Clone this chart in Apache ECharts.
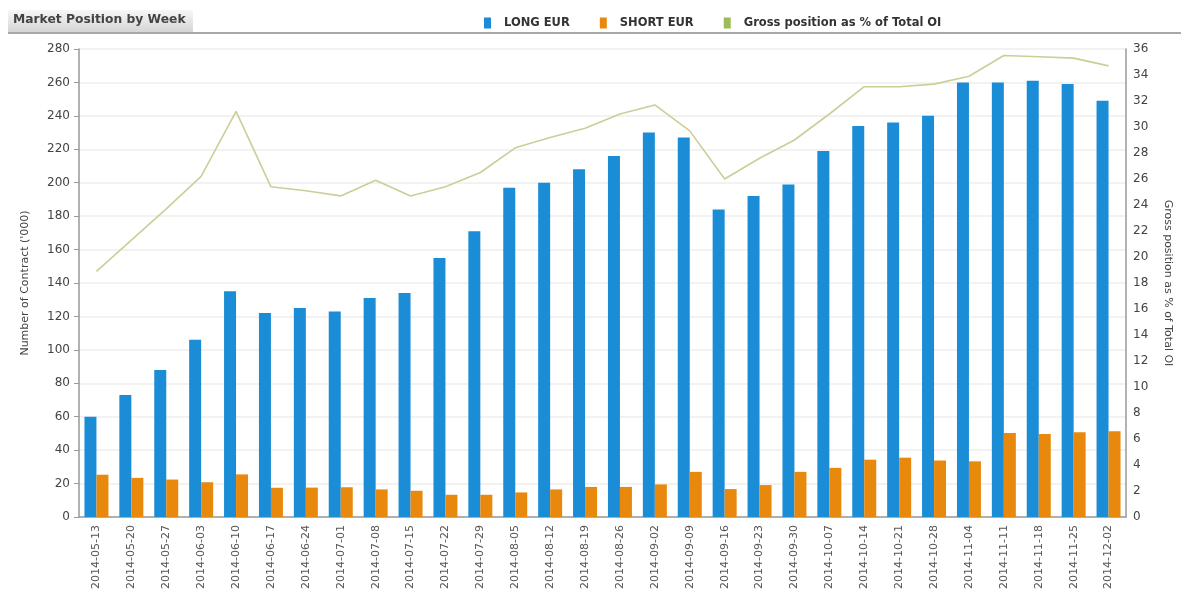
<!DOCTYPE html>
<html>
<head>
<meta charset="utf-8">
<script src="https://cdn.jsdelivr.net/npm/echarts@6/dist/echarts.min.js"></script>
<style>
  html, body { margin: 0; padding: 0; background: #fff; }
  #chart { width: 1181px; height: 596px; }
</style>
</head>
<body>
<div id="chart"></div>
<script>
const weeks = ['2014-05-13', '2014-05-20', '2014-05-27', '2014-06-03', '2014-06-10', '2014-06-17',
  '2014-06-24', '2014-07-01', '2014-07-08', '2014-07-15', '2014-07-22', '2014-07-29',
  '2014-08-05', '2014-08-12', '2014-08-19', '2014-08-26', '2014-09-02', '2014-09-09',
  '2014-09-16', '2014-09-23', '2014-09-30', '2014-10-07', '2014-10-14', '2014-10-21',
  '2014-10-28', '2014-11-04', '2014-11-11', '2014-11-18', '2014-11-25', '2014-12-02'];
const longEur = [60, 73, 88, 106, 135, 122, 125, 123, 131, 134, 155, 171,
  197, 200, 208, 216, 230, 227, 184, 192, 199, 219, 234, 236,
  240, 260, 260, 261, 259, 249];
const shortEur = [25.3, 23.4, 22.4, 20.8, 25.5, 17.5, 17.6, 17.8, 16.5, 15.7, 13.3, 13.3,
  14.7, 16.5, 18, 18, 19.5, 27, 16.7, 19.1, 27, 29.4, 34.3, 35.5,
  33.8, 33.3, 50.3, 49.6, 50.7, 51.3];
const grossPct = [18.9, 21.3, 23.7, 26.2, 31.2, 25.4, 25.1, 24.7, 25.9, 24.7, 25.4, 26.5,
  28.4, 29.2, 29.9, 31.0, 31.7, 29.7, 26.0, 27.6, 29.0, 31.0, 33.1, 33.1,
  33.3, 33.9, 35.5, 35.4, 35.3, 34.7];

const font = 'DejaVu Sans';
const chart = echarts.init(document.getElementById('chart'));

const option = {
  animation: false,
  textStyle: { fontFamily: font },
  graphic: [
    {
      type: 'rect',
      shape: { x: 8, y: 10, width: 185, height: 23 },
      style: {
        fill: new echarts.graphic.LinearGradient(0, 0, 0, 1, [
          { offset: 0, color: '#f7f7f7' },
          { offset: 1, color: '#d4d4d4' }
        ])
      }
    },
    {
      type: 'line',
      shape: { x1: 8, y1: 33, x2: 1181, y2: 33 },
      style: { stroke: '#a8a8a8', lineWidth: 2 }
    },
    {
      type: 'text',
      left: 13,
      top: 14,
      style: { text: 'Market Position by Week', font: 'bold 12.3px "DejaVu Sans"', fill: '#444' }
    }
  ],
  legend: {
    top: 12,
    left: 479,
    itemWidth: 7,
    itemHeight: 11,
    itemGap: 30,
    icon: 'rect',
    textStyle: { fontSize: 11.5, fontWeight: 'bold', color: '#333', fontFamily: font, padding: [0, 0, 0, 8] },
    data: ['LONG EUR', 'SHORT EUR', 'Gross position as % of Total OI']
  },
  grid: { left: 79, right: 53, top: 49, bottom: 79 },
  xAxis: {
    type: 'category',
    data: weeks,
    axisLine: { lineStyle: { color: '#999', width: 1.5 } },
    axisTick: { show: false },
    axisLabel: { rotate: 90, interval: 0, fontSize: 11, color: '#555', margin: 8 }
  },
  yAxis: [
    {
      type: 'value',
      min: 0,
      max: 280,
      interval: 20,
      name: "Number of Contract ('000)",
      nameLocation: 'middle',
      nameGap: 48,
      nameTextStyle: { fontSize: 11, color: '#444' },
      axisLine: { show: true, lineStyle: { color: '#999', width: 1.5 } },
      axisTick: { show: true, length: 5, lineStyle: { color: '#999' } },
      axisLabel: { fontSize: 12, color: '#444', margin: 9 },
      splitLine: { lineStyle: { color: '#f2f2f2', width: 2 } }
    },
    {
      type: 'value',
      min: 0,
      max: 36,
      interval: 2,
      name: 'Gross position as % of Total OI',
      nameLocation: 'middle',
      nameGap: 36,
      nameRotate: -90,
      nameTextStyle: { fontSize: 11, color: '#444' },
      axisLine: { show: true, lineStyle: { color: '#999', width: 1.5 } },
      axisTick: { show: false },
      axisLabel: { fontSize: 12, color: '#444', margin: 7 },
      splitLine: { show: false }
    }
  ],
  series: [
    {
      name: 'LONG EUR',
      type: 'bar',
      data: longEur,
      barWidth: 12,
      barGap: '0%',
      itemStyle: { color: '#1b8dd6' }
    },
    {
      name: 'SHORT EUR',
      type: 'bar',
      data: shortEur,
      barWidth: 12,
      itemStyle: { color: '#e8890e' }
    },
    {
      name: 'Gross position as % of Total OI',
      type: 'line',
      yAxisIndex: 1,
      data: grossPct,
      symbol: 'none',
      lineStyle: { color: '#cdcd98', width: 1.6 },
      itemStyle: { color: '#9cbb59' }
    }
  ]
};

chart.setOption(option);
</script>
</body>
</html>
